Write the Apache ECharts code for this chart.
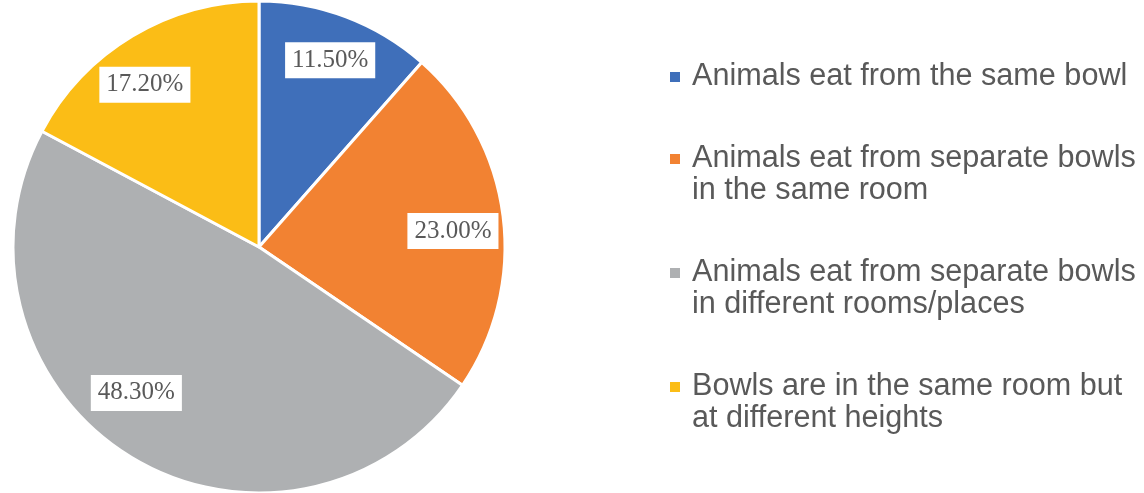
<!DOCTYPE html>
<html>
<head>
<meta charset="utf-8">
<script src="https://cdn.jsdelivr.net/npm/echarts@6/dist/echarts.min.js"></script>
<style>
  html, body { margin: 0; padding: 0; background: #fff; }
  #chart { width: 1144px; height: 493px; }
</style>
</head>
<body>
<div id="chart"></div>
<script>
// 数据
var categories = [
  'Animals eat from the same bowl',
  'Animals eat from separate bowls\nin the same room',
  'Animals eat from separate bowls\nin different rooms/places',
  'Bowls are in the same room but\nat different heights'
]
var values = [11.5, 23.0, 48.3, 17.2]
var labels = ['11.50%', '23.00%', '48.30%', '17.20%']

// 样式
var colors = ['#3F6FBA', '#F28232', '#AEB0B2', '#FBBD16']
var labelOffsets = [[1, -1], [-3, 9], [-20, -24], [-12, 8]]

var myChart = echarts.init(document.getElementById('chart'))

var pieData = categories.map(function (name, i) {
  return { name: name, value: values[i], itemStyle: { color: colors[i] } }
})
var labelData = categories.map(function (name, i) {
  return {
    name: name,
    value: values[i],
    label: { offset: labelOffsets[i] }
  }
})

// 图例富文本
var rich = {
  sp: { width: 12, lineHeight: 32 },
  ind: { width: 22, lineHeight: 32 }
}
colors.forEach(function (c, i) {
  rich['m' + i] = { width: 10, height: 10, backgroundColor: c, lineHeight: 32 }
})

var option = {
  animation: false,
  legend: {
    orient: 'vertical',
    left: 660,
    top: 56,
    itemGap: 50,
    itemWidth: 0,
    itemHeight: 10,
    icon: 'none',
    selectedMode: false,
    data: categories,
    formatter: function (name) {
      var i = categories.indexOf(name)
      var lines = name.split('\n')
      var s = '{m' + i + '| }{sp| }' + lines[0]
      for (var k = 1; k < lines.length; k++) {
        s += '\n{ind| }' + lines[k]
      }
      return s
    },
    textStyle: {
      fontFamily: 'Liberation Sans',
      fontSize: 30.6,
      lineHeight: 32,
      color: '#595959',
      rich: rich
    }
  },
  series: [
    {
      type: 'pie',
      center: [259, 247],
      radius: 246,
      startAngle: 90,
      silent: true,
      label: { show: false },
      labelLine: { show: false },
      itemStyle: { borderColor: '#fff', borderWidth: 3 },
      data: pieData
    },
    {
      // 标签层
      type: 'pie',
      center: [259, 247],
      radius: [145, 246],
      startAngle: 90,
      silent: true,
      itemStyle: { color: 'rgba(0,0,0,0)' },
      labelLine: { show: false },
      label: {
        show: true,
        position: 'inside',
        formatter: function (p) { return labels[p.dataIndex] },
        fontFamily: 'Liberation Serif',
        fontSize: 25,
        color: '#595959',
        backgroundColor: '#fff',
        padding: [6, 7, 5, 7]
      },
      data: labelData
    }
  ]
}

myChart.setOption(option)
</script>
</body>
</html>
